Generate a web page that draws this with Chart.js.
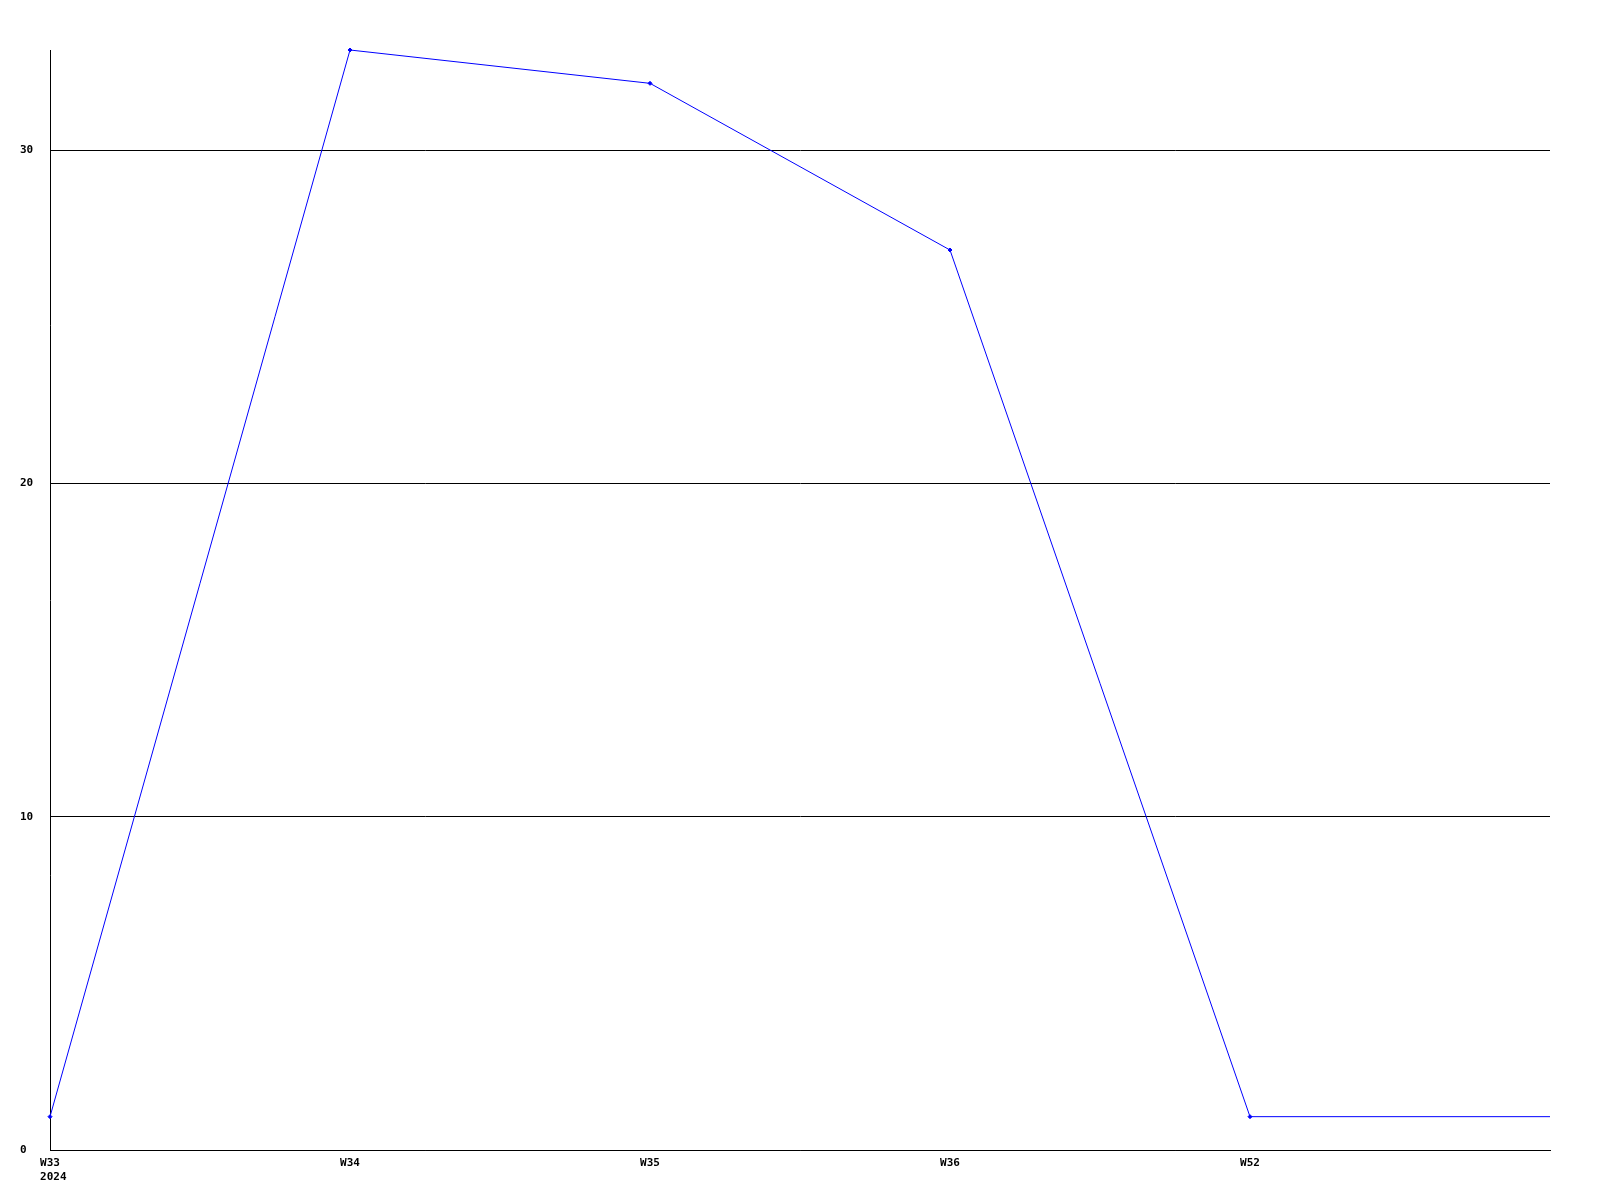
<!DOCTYPE html>
<html>
<head>
<meta charset="utf-8">
<script src="https://cdn.jsdelivr.net/npm/chart.js@4"></script>
<style>
  html, body { margin: 0; padding: 0; background: #fff; }
  #chart { display: block; }
</style>
</head>
<body>
<canvas id="chart" width="1600" height="1200"></canvas>
<script>
// data
const weekLabels = [['W33', ' 2024'], 'W34', 'W35', 'W36', 'W52', '']
const counts = [1, 33, 32, 27, 1, 1]
const markerSizes = [2, 2, 2, 2, 2, 0]
const yTicks = [0, 10, 20, 30]

const ctx = document.getElementById('chart').getContext('2d')
const tickFont = { family: 'DejaVu Sans Mono', size: 11, weight: 'bold' }

const chart = new Chart(ctx, {
  type: 'line',
  data: {
    labels: weekLabels,
    datasets: [{
      data: counts,
      borderColor: '#0000ff',
      backgroundColor: '#0000ff',
      borderWidth: 1,
      pointStyle: 'rectRot',
      pointRadius: markerSizes,
      pointBorderWidth: 1,
      tension: 0,
      fill: false,
      clip: false
    }]
  },
  options: {
    responsive: false,
    animation: false,
    layout: { padding: { top: 50, right: 50, left: 20, bottom: 0 } },
    plugins: {
      legend: { display: false },
      tooltip: { enabled: false }
    },
    scales: {
      x: {
        offset: false,
        grid: { display: false, drawTicks: false },
        border: { display: true, color: '#000', width: 1 },
        ticks: {
          color: '#000',
          font: tickFont,
          padding: 7,
          maxRotation: 0,
          autoSkip: false
        },
        afterFit: function (scale) { scale.height = 50 }
      },
      y: {
        min: 0,
        max: 33,
        grid: { color: '#000', lineWidth: 1, drawTicks: false },
        border: { display: true, color: '#000', width: 1 },
        ticks: {
          color: '#000',
          font: tickFont,
          crossAlign: 'far',
          stepSize: 10,
          includeBounds: false
        },
        afterBuildTicks: function (scale) {
          scale.ticks = yTicks.map(v => ({ value: v }))
        },
        afterFit: function (scale) { scale.width = 30 }
      }
    }
  }
})
</script>
</body>
</html>
